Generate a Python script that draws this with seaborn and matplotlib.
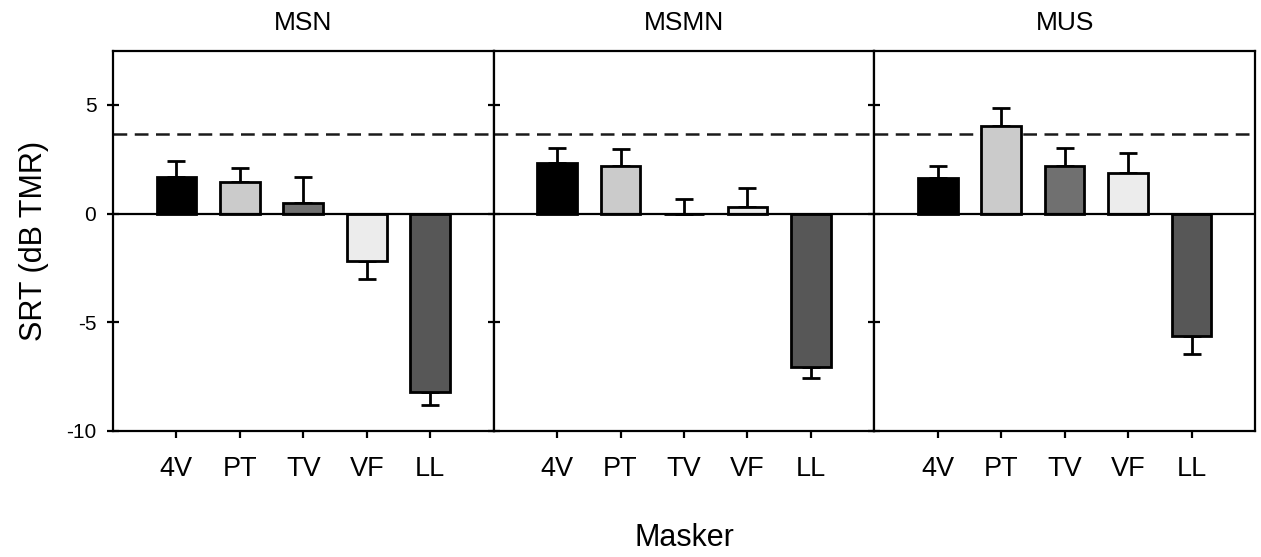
import numpy as np
import pandas as pd
import matplotlib
matplotlib.use("Agg")
import matplotlib.pyplot as plt
import seaborn as sns

# ---- data ----
panels = ["MSN", "MSMN", "MUS"]
maskers = ["4V", "PT", "TV", "VF", "LL"]
srt_msn = [1.66, 1.44, 0.49, -2.19, -8.20]
srt_msmn = [2.34, 2.20, 0.00, 0.29, -7.08]
srt_mus = [1.62, 4.03, 2.20, 1.85, -5.63]
err_msn = [0.75, 0.65, 1.20, 0.83, 0.61]
err_msmn = [0.70, 0.77, 0.67, 0.88, 0.49]
err_mus = [0.58, 0.82, 0.81, 0.92, 0.85]
reference_srt = 3.65
yticks = [5, 0, -5, -10]

bar_colors = ["#000000", "#cbcbcb", "#707070", "#ececec", "#575757"]

values = {"MSN": srt_msn, "MSMN": srt_msmn, "MUS": srt_mus}
errors = {"MSN": err_msn, "MSMN": err_msmn, "MUS": err_mus}

rows = []
for p in panels:
    for m, v, e in zip(maskers, values[p], errors[p]):
        rows.append({"panel": p, "masker": m, "srt": v, "err": e})
df = pd.DataFrame(rows)

sns.set_style("ticks")
plt.rcParams["font.family"] = ["Liberation Sans", "DejaVu Sans"]
plt.rcParams["axes.unicode_minus"] = False
plt.rcParams["text.color"] = "black"
plt.rcParams["axes.labelcolor"] = "black"
plt.rcParams["xtick.color"] = "black"
plt.rcParams["ytick.color"] = "black"

fig, axes = plt.subplots(1, 3, figsize=(12.61, 5.57), dpi=100, sharey=True)
fig.subplots_adjust(left=0.0896, right=0.9952, bottom=0.2268, top=0.909, wspace=0)

palette = dict(zip(maskers, bar_colors))

for i, (ax, p) in enumerate(zip(axes, panels)):
    d = df[df["panel"] == p]
    sns.barplot(data=d, x="masker", y="srt", hue="masker", palette=palette,
                order=maskers, hue_order=maskers, legend=False, width=0.625,
                saturation=1, edgecolor="black", linewidth=2.0, ax=ax, zorder=3)
    x = np.arange(len(maskers))
    v = d["srt"].to_numpy()
    e = d["err"].to_numpy()
    lower = np.where(v < 0, e, 0)
    upper = np.where(v >= 0, e, 0)
    ax.errorbar(x, v, yerr=[lower, upper], fmt="none", ecolor="black",
                elinewidth=2.0, capsize=6.5, capthick=2.0, zorder=2)
    ax.axhline(0, color="black", lw=1.6, zorder=4)
    ax.axhline(reference_srt, color="#1a1a1a", lw=1.8, dashes=(5.5, 3.0), zorder=1)
    ax.set_xlim(-1, 5)
    ax.set_ylim(-10, 7.5)
    ax.set_yticks(yticks)
    ax.set_title(p, fontsize=19, pad=15, color="black")
    ax.set_xlabel("")
    ax.set_ylabel("")
    for s in ax.spines.values():
        s.set_visible(True)
        s.set_linewidth(1.6)
        s.set_color("black")
    ax.tick_params(axis="x", direction="out", length=5, width=1.6,
                   labelsize=19.5, pad=13, colors="black")
    ax.tick_params(axis="y", direction="inout", length=8, width=1.6,
                   labelsize=15, pad=8, colors="black")
    if i > 0:
        ax.tick_params(axis="y", labelleft=False)

axes[0].set_ylabel("SRT (dB TMR)", fontsize=22, labelpad=12, color="black")
axes[1].set_xlabel("Masker", fontsize=22, labelpad=30, color="black")

fig.savefig("out.png", dpi=100)
